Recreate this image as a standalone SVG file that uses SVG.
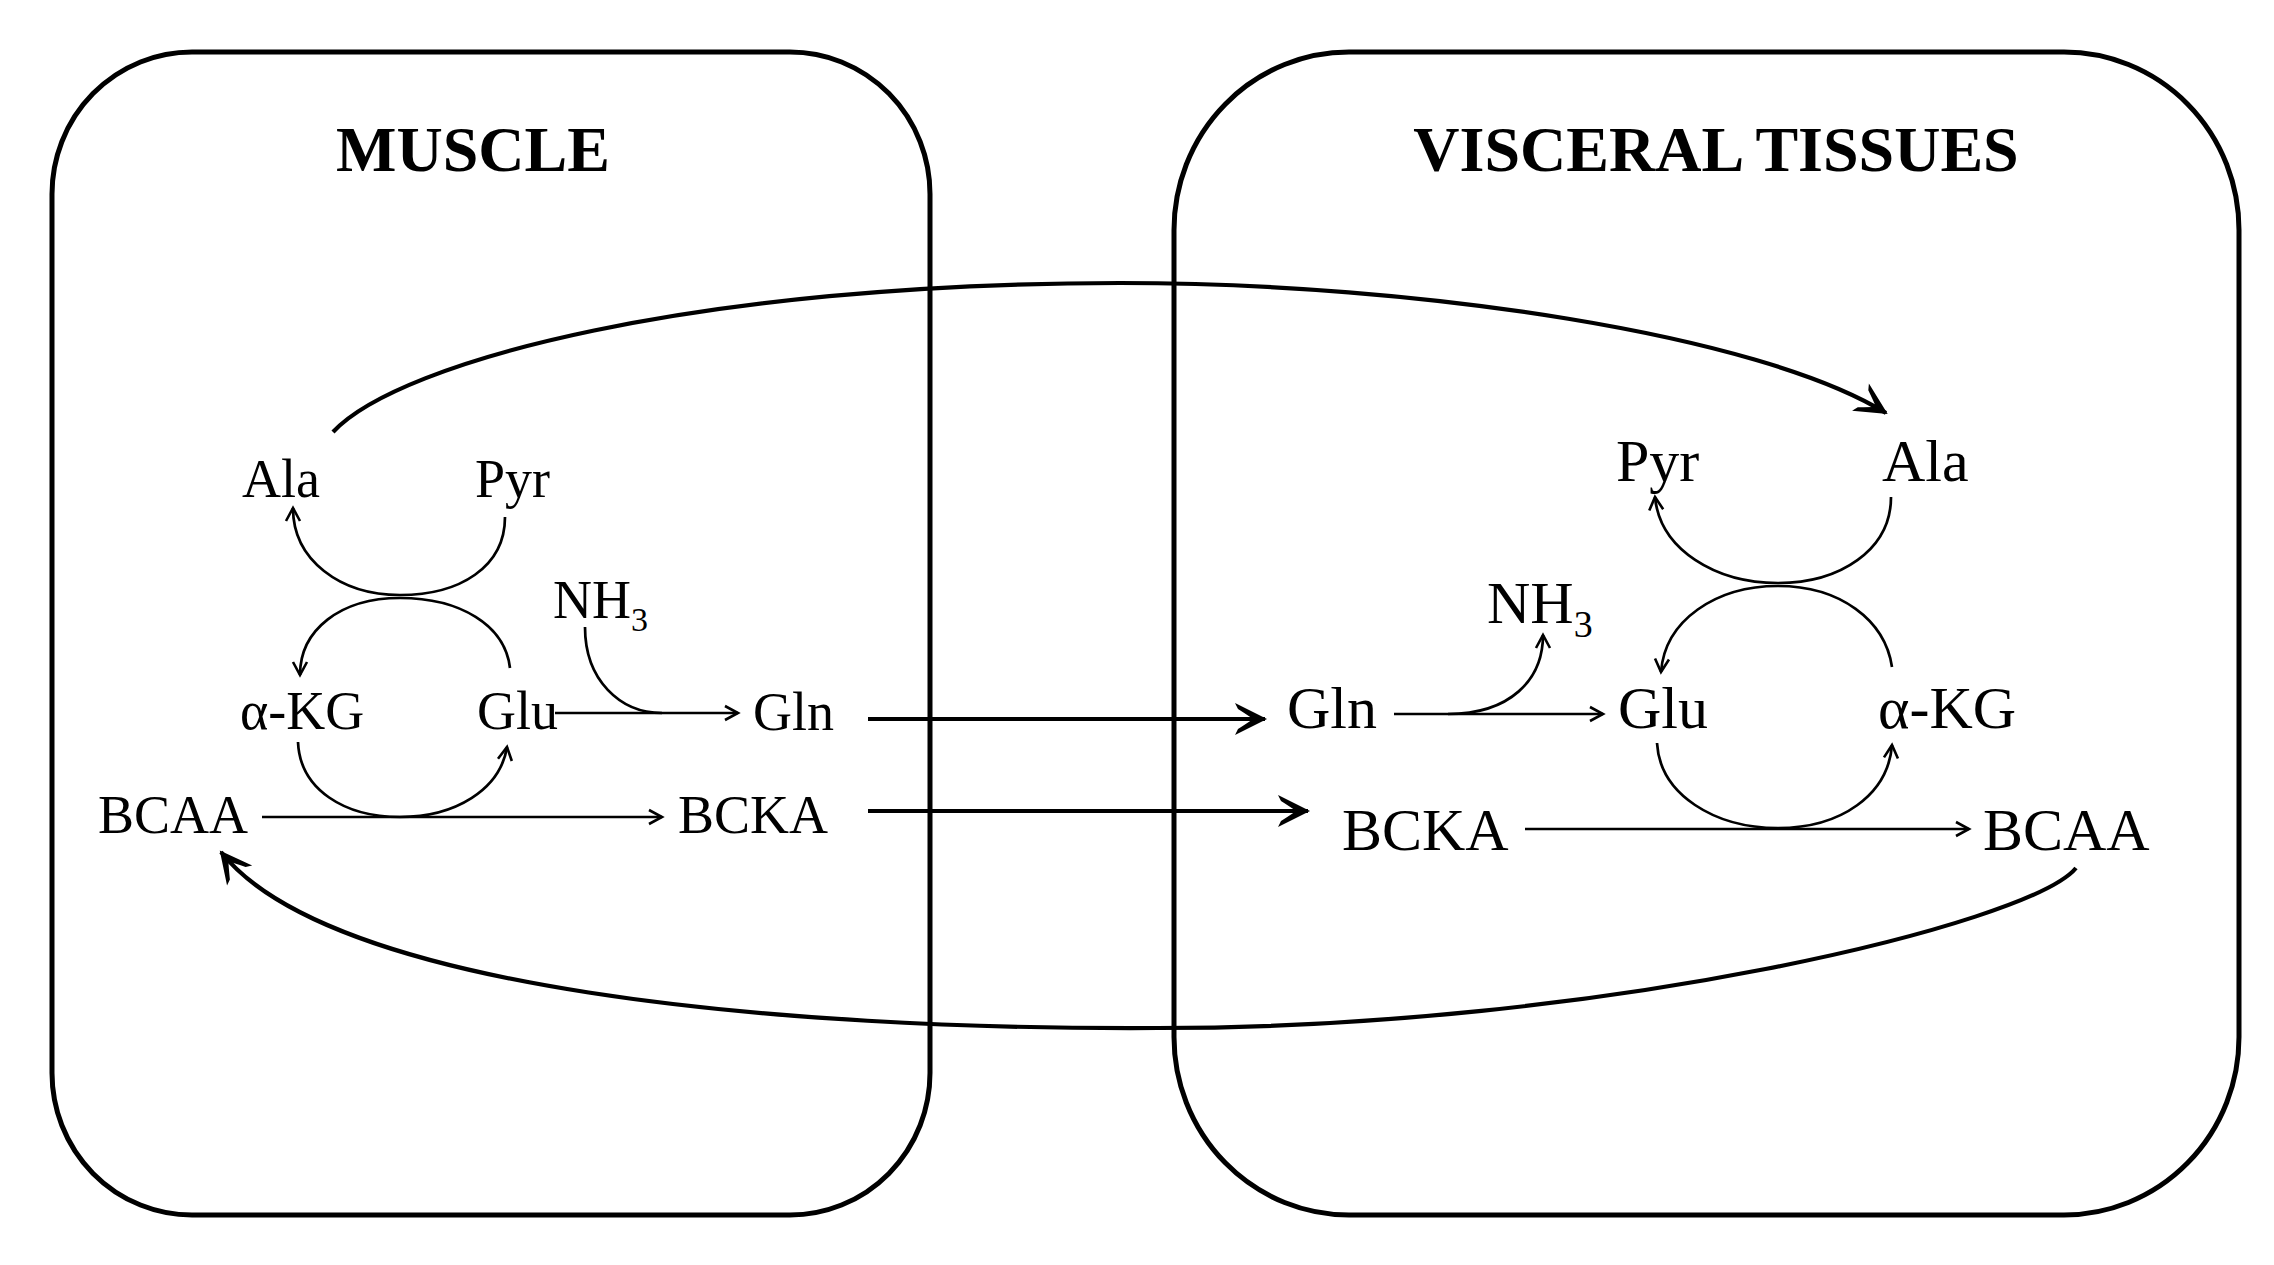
<svg xmlns="http://www.w3.org/2000/svg" width="2274" height="1265" viewBox="0 0 2274 1265">
<style>
.box{fill:none;stroke:#000;stroke-width:5}
.t{font-family:"Liberation Serif","Times New Roman",serif;fill:#000}
.l{font-size:54px}
.r{font-size:60px}
.h{font-size:64px;font-weight:bold}
.thin{fill:none;stroke:#000;stroke-width:2.7}
.thick{fill:none;stroke:#000;stroke-width:4.2}
</style>
<defs>
<marker id="sa" markerUnits="userSpaceOnUse" viewBox="-20 -15 30 30" refX="0" refY="0" markerWidth="30" markerHeight="30" orient="auto" overflow="visible">
<path d="M-13,-7 L0,0 L-13,7" fill="none" stroke="#000" stroke-width="2.6"/>
</marker>
<marker id="ba" markerUnits="userSpaceOnUse" viewBox="-40 -20 50 40" refX="0" refY="0" markerWidth="50" markerHeight="40" orient="auto" overflow="visible">
<path d="M2,0 L-30,-16 L-27,-10 Q-16,-3 -12,0 Q-16,3 -27,10 L-30,16 Z" fill="#000"/>
</marker>
</defs>
<rect x="0" y="0" width="2274" height="1265" fill="#fff"/>

<g id="muscle">
<rect class="box" x="52" y="52" width="878" height="1163" rx="140" ry="142"/>
<text class="t h" x="473" y="171" text-anchor="middle">MUSCLE</text>
</g>
<g id="visceral">
<rect class="box" x="1174" y="52" width="1065" height="1163" rx="175" ry="178"/>
<text class="t h" x="1716" y="171" text-anchor="middle">VISCERAL TISSUES</text>
</g>

<g id="m-ala"><text class="t l" x="242" y="497">Ala</text></g>
<g id="m-pyr"><text class="t l" x="475" y="497">Pyr</text></g>
<g id="m-nh3"><text class="t l" x="553" y="618">NH<tspan font-size="34" dy="13">3</tspan></text></g>
<g id="m-akg"><text class="t l" x="240" y="729">α-KG</text></g>
<g id="m-glu"><text class="t l" x="477" y="729">Glu</text></g>
<g id="m-gln"><text class="t l" x="753" y="730">Gln</text></g>
<g id="m-bcaa"><text class="t l" x="98" y="833">BCAA</text></g>
<g id="m-bcka"><text class="t l" x="678" y="833">BCKA</text></g>

<g id="v-pyr"><text class="t r" x="1616" y="481">Pyr</text></g>
<g id="v-ala"><text class="t r" x="1882" y="481">Ala</text></g>
<g id="v-nh3"><text class="t r" x="1487" y="623">NH<tspan font-size="38" dy="14">3</tspan></text></g>
<g id="v-gln"><text class="t r" x="1287" y="728">Gln</text></g>
<g id="v-glu"><text class="t r" x="1618" y="728">Glu</text></g>
<g id="v-akg"><text class="t r" x="1878" y="728">α-KG</text></g>
<g id="v-bcka"><text class="t r" x="1342" y="850">BCKA</text></g>
<g id="v-bcaa"><text class="t r" x="1983" y="850">BCAA</text></g>

<g id="connectors">
<!-- long arcs -->
<path class="thick" d="M333,432 C400,360 700,283 1120,283 C1420,283 1760,335 1886,413" marker-end="url(#ba)"/>
<path class="thick" d="M2076,868 C2030,924 1600,1028 1158,1028 C780,1030 330,990 221,852" marker-end="url(#ba)"/>
<!-- transfers -->
<path class="thick" d="M868,719 L1265,719" marker-end="url(#ba)"/>
<path class="thick" d="M868,811 L1308,811" marker-end="url(#ba)"/>
<!-- muscle cycles -->
<path class="thin" d="M505,517 C505,567 460,595 400,595 C340,595 293,560 293,508" marker-end="url(#sa)"/>
<path class="thin" d="M510,668 C505,625 460,598 400,598 C340,598 300,630 300,675" marker-end="url(#sa)"/>
<path class="thin" d="M298,742 C300,790 345,817 400,817 C455,817 500,790 507,747" marker-end="url(#sa)"/>
<path class="thin" d="M262,817 L662,817" marker-end="url(#sa)"/>
<path class="thin" d="M555,713 L738,713" marker-end="url(#sa)"/>
<path class="thin" d="M585,627 C585,680 620,713 662,713"/>
<!-- visceral cycles -->
<path class="thin" d="M1394,714 L1603,714" marker-end="url(#sa)"/>
<path class="thin" d="M1448,714 C1510,714 1543,680 1543,635" marker-end="url(#sa)"/>
<path class="thin" d="M1891,497 C1891,550 1840,583 1778,583 C1716,583 1660,550 1655,497" marker-end="url(#sa)"/>
<path class="thin" d="M1892,667 C1885,620 1840,586 1778,586 C1716,586 1665,620 1661,672" marker-end="url(#sa)"/>
<path class="thin" d="M1657,743 C1660,795 1715,828 1778,828 C1841,828 1888,795 1892,745" marker-end="url(#sa)"/>
<path class="thin" d="M1525,829 L1969,829" marker-end="url(#sa)"/>
</g>
</svg>
